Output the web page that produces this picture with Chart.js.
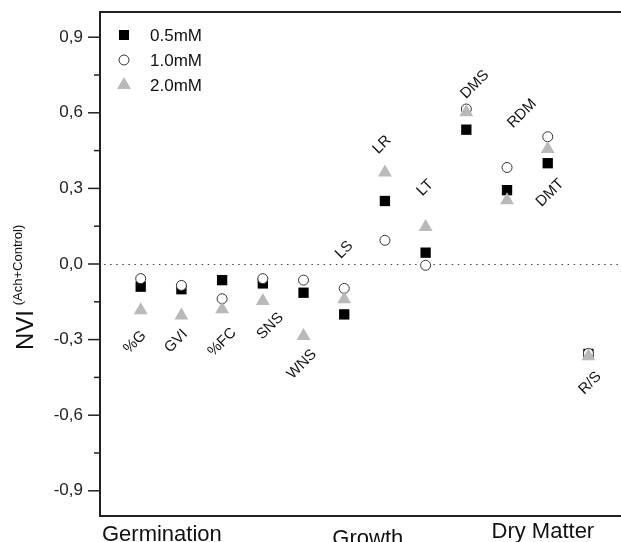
<!DOCTYPE html>
<html>
<head>
<meta charset="utf-8">
<script src="https://cdn.jsdelivr.net/npm/chart.js@4/dist/chart.umd.min.js"></script>
<style>
html,body{margin:0;padding:0;background:#fff;overflow:hidden;}
#wrap{position:relative;width:621px;height:542px;}
</style>
</head>
<body>
<div id="wrap"><canvas id="c" width="621" height="542"></canvas></div>
<script>
// ---- data ----
const categories = ['%G','GVI','%FC','SNS','WNS','LS','LR','LT','DMS','RDM','DMT','R/S'];
const seriesNames = ['0.5mM','1.0mM','2.0mM'];
const s05 = [-0.090,-0.100,-0.064,-0.077,-0.114,-0.200,0.250,0.045,0.533,0.293,0.400,-0.357];
const s10 = [-0.058,-0.085,-0.138,-0.058,-0.064,-0.097,0.094,-0.005,0.615,0.383,0.505,-0.355];
const s20 = [-0.184,-0.204,-0.180,-0.147,-0.286,-0.140,0.363,0.147,0.602,0.253,0.456,-0.366];
// category label anchors (data units)
const labelX = [0.86,1.87,3.0,4.18,4.96,6.0,6.93,7.99,9.21,10.37,11.06,12.04];
const labelY = [-0.31,-0.306,-0.31,-0.247,-0.398,0.056,0.473,0.302,0.712,0.597,0.282,-0.473];
const groups = ['Germination','Growth','Dry Matter'];
const groupX = [1.52,6.58,10.88];
const yMajorTicks = [-0.9,-0.6,-0.3,0.0,0.3,0.6,0.9];
const yMinorTicks = [-0.75,-0.45,-0.15,0.15,0.45,0.75];

const FONT = '"Liberation Sans", Arial, sans-serif';
const GRAY = '#b9b9b9';

function pts(arr){ return arr.map((v,i)=>({x:i+1,y:v})); }
function noPad(s){ s.paddingTop=0; s.paddingBottom=0; s.paddingLeft=0; s.paddingRight=0; }

const extras = {
  id:'extras',
  beforeDatasetsDraw(chart){
    const {ctx, chartArea:a, scales:{x,y}} = chart;
    ctx.save();
    ctx.strokeStyle='#444'; ctx.lineWidth=1.2; ctx.setLineDash([1.5,4.6]);
    const y0=Math.round(y.getPixelForValue(0))+0.5;
    ctx.beginPath(); ctx.moveTo(a.left+4,y0); ctx.lineTo(a.right,y0); ctx.stroke();
    ctx.setLineDash([]);
    ctx.restore();
  },
  afterDraw(chart){
    const {ctx, chartArea:a, scales:{x,y}} = chart;
    ctx.save();
    // top border
    ctx.strokeStyle='#222'; ctx.lineWidth=2;
    ctx.beginPath(); ctx.moveTo(a.left-1,a.top); ctx.lineTo(a.right,a.top); ctx.stroke();
    // y ticks
    ctx.lineWidth=1.5;
    yMajorTicks.forEach(v=>{const p=y.getPixelForValue(v);ctx.beginPath();ctx.moveTo(a.left-12,p);ctx.lineTo(a.left,p);ctx.stroke();});
    yMinorTicks.forEach(v=>{const p=y.getPixelForValue(v);ctx.beginPath();ctx.moveTo(a.left-6,p);ctx.lineTo(a.left,p);ctx.stroke();});
    // category labels
    ctx.fillStyle='#111'; ctx.font='15px '+FONT; ctx.textAlign='center'; ctx.textBaseline='middle';
    categories.forEach((c,i)=>{
      ctx.save();
      ctx.translate(x.getPixelForValue(labelX[i]), y.getPixelForValue(labelY[i]));
      ctx.rotate(-Math.PI/4);
      ctx.fillText(c,0,0);
      ctx.restore();
    });
    // group labels
    ctx.font='22px '+FONT; ctx.textBaseline='alphabetic'; ctx.fillStyle='#111';
    const gOff=[25,29,22];
    groups.forEach((g,i)=>{ ctx.fillText(g, x.getPixelForValue(groupX[i]), a.bottom+gOff[i]); });
    // legend
    const lx=a.left+24, ly=[a.top+23,a.top+48,a.top+73];
    ctx.fillStyle='#000'; ctx.fillRect(lx-5,ly[0]-5,10,10);
    ctx.strokeStyle='#333'; ctx.lineWidth=1; ctx.fillStyle='#fff';
    ctx.beginPath(); ctx.arc(lx,ly[1],5,0,Math.PI*2); ctx.fill(); ctx.stroke();
    ctx.fillStyle=GRAY; ctx.beginPath();
    ctx.moveTo(lx,ly[2]-8); ctx.lineTo(lx+7,ly[2]+4); ctx.lineTo(lx-7,ly[2]+4); ctx.closePath(); ctx.fill();
    ctx.fillStyle='#111'; ctx.font='17px '+FONT; ctx.textAlign='left'; ctx.textBaseline='middle';
    seriesNames.forEach((n,i)=>ctx.fillText(n,lx+26,ly[i]+1));
    // y axis title
    ctx.save();
    ctx.translate(33,330); ctx.rotate(-Math.PI/2);
    ctx.font='24px '+FONT; ctx.textAlign='center'; ctx.textBaseline='alphabetic';
    ctx.fillText('NVI',0,0);
    ctx.restore();
    ctx.save();
    ctx.translate(22,265); ctx.rotate(-Math.PI/2);
    ctx.font='13px '+FONT; ctx.textAlign='center'; ctx.textBaseline='alphabetic';
    ctx.fillText('(Ach+Control)',0,0);
    ctx.restore();
    ctx.restore();
  }
};

new Chart(document.getElementById('c'),{
  type:'scatter',
  data:{datasets:[
    {label:seriesNames[0],data:pts(s05),pointStyle:'rect',pointRadius:7.3,backgroundColor:'#000',borderColor:'#000',borderWidth:0,order:3},
    {label:seriesNames[1],data:pts(s10),pointStyle:'circle',pointRadius:5,backgroundColor:'#fff',borderColor:'#333',borderWidth:1,order:2},
    {label:seriesNames[2],data:pts(s20),pointStyle:'triangle',pointRadius:8,backgroundColor:GRAY,borderColor:GRAY,borderWidth:0,order:1}
  ]},
  options:{
    responsive:false,animation:false,
    layout:{autoPadding:false,padding:{left:0,right:0,top:12,bottom:26}},
    plugins:{legend:{display:false},tooltip:{enabled:false}},
    scales:{
      x:{type:'linear',min:0,max:12.8,
         grid:{display:false},ticks:{display:false},
         border:{display:true,color:'#222',width:2},
         afterFit(s){s.height=0;noPad(s);}},
      y:{type:'linear',min:-1,max:1,
         afterBuildTicks(s){s.ticks=yMajorTicks.map(v=>({value:v}));},
         ticks:{callback:v=>v.toFixed(1).replace('.',','),font:{family:FONT,size:17},color:'#222',padding:17},
         grid:{display:false,drawTicks:false},
         border:{display:true,color:'#222',width:2},
         afterFit(s){s.width=100;noPad(s);}}
    }
  },
  plugins:[extras]
});
</script>
</body>
</html>
